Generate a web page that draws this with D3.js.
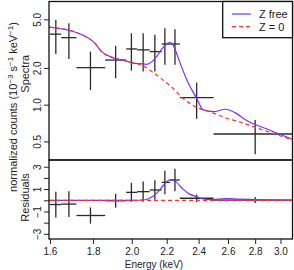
<!DOCTYPE html>
<html>
<head>
<meta charset="utf-8">
<script src="https://cdn.jsdelivr.net/npm/d3@7"></script>
<style>
    body { margin: 0; background: #fff; }
    svg text { font-family: "Liberation Sans", Arial, sans-serif; fill: #222; }
</style>
</head>
<body>
<svg id="drawing_region"></svg>
<script>
// data bins (keV)
const binLo = [1.60, 1.65, 1.72, 1.86, 1.97, 2.03, 2.10, 2.17, 2.22, 2.28, 2.50];
const binHi = [1.65, 1.72, 1.86, 1.97, 2.03, 2.10, 2.17, 2.22, 2.28, 2.50, 3.10];
const binE = [1.626, 1.685, 1.787, 1.914, 1.998, 2.063, 2.13, 2.189, 2.25, 2.387, 2.80];
// normalized counts (1e-3 s^-1 keV^-1)
const flux = [3.78, 3.54, 2.01, 2.32, 2.86, 2.81, 2.72, 3.14, 3.14, 1.14, 0.575];
const fluxLo = [2.60, 2.37, 1.32, 1.65, 1.90, 1.87, 1.87, 2.12, 2.12, 0.764, 0.392];
const fluxHi = [4.94, 4.65, 2.72, 3.03, 3.85, 3.85, 3.73, 4.23, 4.15, 1.515, 0.749];
const resid = [-0.38, -0.34, -1.36, -0.04, 0.71, 0.77, 0.92, 1.60, 1.81, 0.18, 0.02];
const residErr = [1.15, 1.15, 0.72, 0.62, 0.85, 0.90, 0.88, 1.05, 1.00, 0.33, 0.27];

// models
const zeroE = [1.596, 1.728, 1.808, 1.842, 1.893, 1.963, 2.018, 2.063, 2.12, 2.178, 2.238, 2.30, 2.387, 2.474, 2.59, 2.66, 2.86, 3.10];
const zeroFlux = [4.31, 3.85, 3.19, 2.72, 2.45, 2.29, 2.18, 2.08, 1.83, 1.594, 1.363, 1.128, 0.952, 0.876, 0.774, 0.735, 0.620, 0.513];
const freeE = [1.596, 1.728, 1.808, 1.842, 1.893, 1.963, 2.018, 2.045, 2.082, 2.11, 2.14, 2.17, 2.20, 2.22, 2.238, 2.26, 2.29, 2.33, 2.387, 2.43, 2.50, 2.58, 2.65, 2.73, 2.91, 3.10];
const freeFlux = [4.31, 3.85, 3.19, 2.72, 2.45, 2.29, 2.18, 2.17, 2.14, 2.23, 2.47, 2.85, 3.14, 3.22, 3.09, 2.64, 2.05, 1.535, 1.128, 0.905, 0.876, 0.917, 0.86, 0.749, 0.620, 0.52];
const resModelE = [1.596, 2.00, 2.074, 2.11, 2.14, 2.178, 2.208, 2.229, 2.26, 2.30, 2.342, 2.387, 2.43, 2.474, 2.59, 2.68, 2.81, 3.10];
const resFree = [0, 0, 0.05, 0.27, 0.62, 1.3, 1.76, 1.85, 1.6, 1.0, 0.55, 0.33, 0.12, 0.05, 0.15, 0.1, 0.05, 0];
const resZeroE = [1.596, 3.10];
const resZero = [0, 0];

const xTicks = [1.6, 1.8, 2.0, 2.2, 2.4, 2.6, 2.8, 3.0];
const specTicks = [0.5, 1.0, 2.0, 5.0];
const resTicks = [-3, -2, -1, 0, 1, 2, 3];
const resLabels = [-3, -1, 1, 3];
const legendNames = ['Z free', 'Z = 0'];

var config = {
    width: 294,
    height: 270,
    left: 49,
    right: 292.5,
    top: 1.5,
    mid: 160,
    bottom: 239
};
const blue = '#7033ff';
const red = '#ff3030';
const cross = '#2a2a2a';

const svg = d3.select('#drawing_region')
    .attr('width', config.width)
    .attr('height', config.height);

const xscale = d3.scaleLog()
    .domain([1.596, 3.10])
    .range([config.left, config.right]);
const yspec = d3.scaleLog()
    .domain([0.352, 7.0])
    .range([config.mid, config.top]);
const yres = d3.scaleLinear()
    .domain([-3.46, 3.6])
    .range([config.bottom, config.mid]);

// axes
const xaxis = d3.axisBottom(xscale)
    .tickValues(xTicks)
    .tickFormat(d3.format('.1f'))
    .tickSize(5)
    .tickSizeOuter(0)
    .tickPadding(4);
svg.append('g')
    .attr('transform', `translate(0,${config.bottom})`)
    .call(xaxis);

const yaxis1 = d3.axisLeft(yspec)
    .tickValues(specTicks)
    .tickFormat(d3.format('.1f'))
    .tickSize(5)
    .tickSizeOuter(0);
svg.append('g')
    .attr('class', 'yax')
    .attr('transform', `translate(${config.left},0)`)
    .call(yaxis1);

const yaxis2 = d3.axisLeft(yres)
    .tickValues(resTicks)
    .tickFormat(d => resLabels.includes(d) ? d3.format('d')(d).replace('-', '\u2212') : '')
    .tickSize(5)
    .tickSizeOuter(0);
svg.append('g')
    .attr('class', 'yax')
    .attr('transform', `translate(${config.left},0)`)
    .call(yaxis2);

svg.selectAll('.domain').remove();
svg.selectAll('.tick line').attr('stroke', '#222');
svg.selectAll('.tick text')
    .attr('font-size', 10)
    .attr('font-family', '"Liberation Sans", Arial, sans-serif')
    .attr('fill', '#333');
svg.selectAll('.yax .tick text')
    .attr('x', null)
    .attr('dy', null)
    .attr('text-anchor', 'middle')
    .attr('transform', 'translate(-8,0) rotate(-90)');

// error crosses, top
const spec = svg.append('g');
binE.forEach((e, i) => {
    spec.append('line')
        .attr('x1', xscale(binLo[i])).attr('x2', xscale(binHi[i]))
        .attr('y1', yspec(flux[i])).attr('y2', yspec(flux[i]))
        .attr('stroke', cross).attr('stroke-width', 1.3);
    spec.append('line')
        .attr('x1', xscale(e)).attr('x2', xscale(e))
        .attr('y1', yspec(fluxLo[i])).attr('y2', yspec(fluxHi[i]))
        .attr('stroke', cross).attr('stroke-width', 1.3);
});

// residual crosses
const res = svg.append('g');
binE.forEach((e, i) => {
    res.append('line')
        .attr('x1', xscale(binLo[i])).attr('x2', xscale(binHi[i]))
        .attr('y1', yres(resid[i])).attr('y2', yres(resid[i]))
        .attr('stroke', cross).attr('stroke-width', 1.3);
    res.append('line')
        .attr('x1', xscale(e)).attr('x2', xscale(e))
        .attr('y1', yres(resid[i] - residErr[i])).attr('y2', yres(resid[i] + residErr[i]))
        .attr('stroke', cross).attr('stroke-width', 1.3);
});

// model lines
const specLine = d3.line()
    .x(d => xscale(d[0]))
    .y(d => yspec(d[1]))
    .curve(d3.curveMonotoneX);
const resLine = d3.line()
    .x(d => xscale(d[0]))
    .y(d => yres(d[1]))
    .curve(d3.curveMonotoneX);

svg.append('path')
    .attr('d', specLine(d3.zip(freeE, freeFlux)))
    .attr('fill', 'none').attr('stroke', blue).attr('stroke-width', 1.2);
svg.append('path')
    .attr('d', specLine(d3.zip(zeroE, zeroFlux)))
    .attr('fill', 'none').attr('stroke', red).attr('stroke-width', 1.2)
    .attr('stroke-dasharray', '4,3');
svg.append('path')
    .attr('d', resLine(d3.zip(resModelE, resFree)))
    .attr('fill', 'none').attr('stroke', blue).attr('stroke-width', 1.2);
svg.append('path')
    .attr('d', resLine(d3.zip(resZeroE, resZero)))
    .attr('fill', 'none').attr('stroke', red).attr('stroke-width', 1.2)
    .attr('stroke-dasharray', '4,3');

// frames
svg.append('rect')
    .attr('x', config.left).attr('y', config.top)
    .attr('width', config.right - config.left).attr('height', config.mid - config.top)
    .attr('fill', 'none').attr('stroke', '#111').attr('stroke-width', 1.3);
svg.append('rect')
    .attr('x', config.left).attr('y', config.mid)
    .attr('width', config.right - config.left).attr('height', config.bottom - config.mid)
    .attr('fill', 'none').attr('stroke', '#111').attr('stroke-width', 1.3);

// legend
const legend = svg.append('g');
legend.append('rect')
    .attr('x', 222.7).attr('y', config.top)
    .attr('width', config.right - 222.7).attr('height', 37.7 - config.top)
    .attr('fill', '#fff').attr('stroke', '#111').attr('stroke-width', 1.3);
legendNames.forEach((name, i) => {
    const y = 14 + i * 12.7;
    legend.append('line')
        .attr('x1', 232).attr('x2', 251).attr('y1', y).attr('y2', y)
        .attr('stroke', i === 0 ? blue : red).attr('stroke-width', 1.2)
        .attr('stroke-dasharray', i === 0 ? null : '4,3');
    legend.append('text')
        .attr('x', 259).attr('y', y + 4)
        .attr('font-size', 11)
        .text(name);
});

// axis titles
svg.append('text')
    .attr('x', 154).attr('y', 268)
    .attr('text-anchor', 'middle')
    .attr('font-size', 10)
    .text('Energy (keV)');

svg.append('text')
    .attr('transform', `translate(29,${(config.top + config.mid) / 2 - 7}) rotate(-90)`)
    .attr('text-anchor', 'middle')
    .attr('font-size', 11)
    .text('Spectra');
svg.append('text')
    .attr('transform', `translate(29,197.5) rotate(-90)`)
    .attr('text-anchor', 'middle')
    .attr('font-size', 11)
    .text('Residuals');

const ylab = svg.append('text')
    .attr('transform', `translate(17,107) rotate(-90)`)
    .attr('text-anchor', 'middle')
    .attr('font-size', 11);
ylab.append('tspan').text('normalized counts (10');
ylab.append('tspan').attr('dy', -4).attr('font-size', 8).text('\u22123');
ylab.append('tspan').attr('dy', 4).text(' s');
ylab.append('tspan').attr('dy', -4).attr('font-size', 8).text('\u22121');
ylab.append('tspan').attr('dy', 4).text(' keV');
ylab.append('tspan').attr('dy', -4).attr('font-size', 8).text('\u22121');
ylab.append('tspan').attr('dy', 4).text(')');
</script>
</body>
</html>
